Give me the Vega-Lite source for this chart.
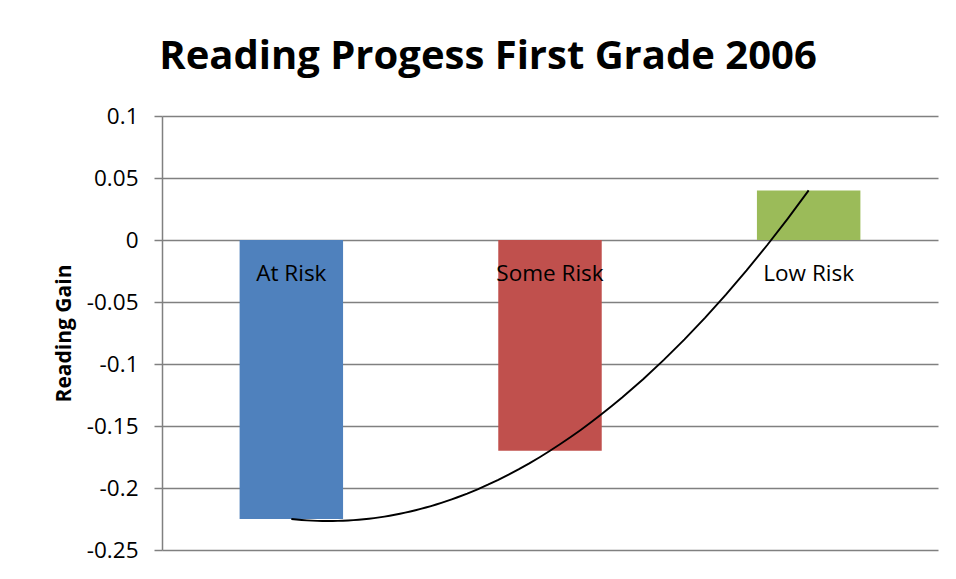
{
  "$schema": "https://vega.github.io/schema/vega-lite/v6.json",
  "width": 776,
  "height": 434,
  "autosize": {"type": "none"},
  "padding": {"left": 162, "top": 116, "right": 18, "bottom": 29},
  "background": "white",
  "config": {
    "view": {"stroke": null},
    "font": "Open Sans"
  },
  "title": {
    "text": "Reading Progess First Grade 2006",
    "font": "Open Sans",
    "fontSize": 40,
    "fontWeight": "bold",
    "color": "#000000",
    "anchor": "middle",
    "frame": "group",
    "baseline": "alphabetic",
    "offset": -4,
    "dx": -62
  },
  "data": {
    "values": [
      {"category": "At Risk", "gain": -0.225},
      {"category": "Some Risk", "gain": -0.17},
      {"category": "Low Risk", "gain": 0.04}
    ]
  },
  "resolve": {"scale": {"x": "independent"}, "axis": {"x": "independent"}},
  "layer": [
    {
      "layer": [
        {
          "mark": {"type": "bar"},
          "encoding": {
            "x": {
              "field": "category",
              "type": "nominal",
              "sort": null,
              "scale": {"paddingInner": 0.6, "paddingOuter": 0.3},
              "axis": null
            },
            "y": {
              "field": "gain",
              "type": "quantitative",
              "scale": {"domain": [-0.25, 0.1], "nice": false, "zero": false},
              "axis": {
                "title": "Reading Gain",
                "titleFont": "Open Sans",
                "titleFontSize": 21,
                "titleFontWeight": "bold",
                "titleColor": "#000000",
                "titleX": -98,
                "titleY": 217,
                "titleAngle": 270,
                "titleAlign": "center",
                "titleBaseline": "middle",
                "values": [-0.25, -0.2, -0.15, -0.1, -0.05, 0, 0.05, 0.1],
                "labelExpr": "datum.value + ''",
                "labelFont": "Open Sans",
                "labelFontSize": 22.5,
                "labelColor": "#000000",
                "labelPadding": 16,
                "tickSize": 8,
                "tickColor": "#808080",
                "tickWidth": 1.5,
                "domainColor": "#808080",
                "domainWidth": 1.5,
                "gridColor": "#808080",
                "gridWidth": 1.5,
                "grid": true
              }
            },
            "color": {
              "field": "category",
              "type": "nominal",
              "scale": {
                "domain": ["At Risk", "Some Risk", "Low Risk"],
                "range": ["#4F81BD", "#C0504D", "#9BBB59"]
              },
              "legend": null
            }
          }
        },
        {
          "mark": {
            "type": "text",
            "baseline": "middle",
            "align": "center",
            "dy": 34,
            "fontSize": 22.5,
            "font": "Open Sans",
            "color": "#000000"
          },
          "encoding": {
            "x": {"field": "category", "type": "nominal", "sort": null},
            "y": {"datum": 0},
            "text": {"field": "category"}
          }
        }
      ]
    },
    {
      "transform": [
        {"window": [{"op": "row_number", "as": "idx"}]},
        {"regression": "gain", "on": "idx", "method": "poly", "order": 2, "extent": [1, 3]}
      ],
      "mark": {"type": "line", "color": "#000000", "strokeWidth": 1.9},
      "encoding": {
        "x": {
          "field": "idx",
          "type": "quantitative",
          "scale": {"domain": [0.5, 3.5], "nice": false, "zero": false},
          "axis": null
        },
        "y": {"field": "gain", "type": "quantitative"}
      }
    }
  ]
}
